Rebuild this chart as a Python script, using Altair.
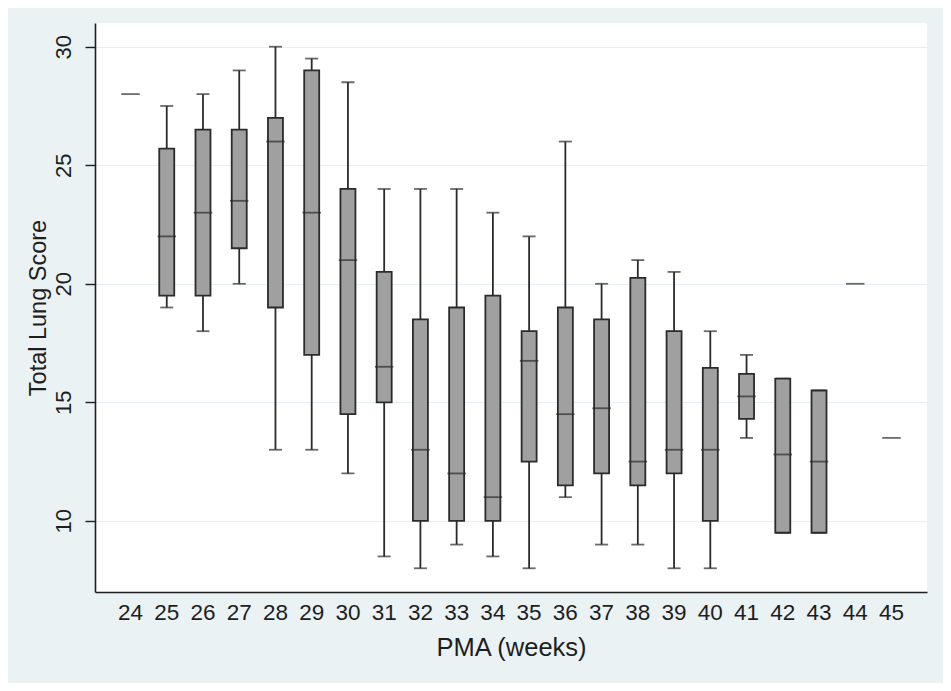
import altair as alt
import pandas as pd

pma = list(range(24, 46))
whisker_lo = [28, 19, 18, 20, 13, 13, 12, 8.5, 8, 9, 8.5, 8, 11, 9, 9, 8, 8, 13.5, 9.5, 9.5, 20, 13.5]
q1 = [28, 19.5, 19.5, 21.5, 19, 17, 14.5, 15, 10, 10, 10, 12.5, 11.5, 12, 11.5, 12, 10, 14.3, 9.5, 9.5, 20, 13.5]
median = [28, 22, 23, 23.5, 26, 23, 21, 16.5, 13, 12, 11, 16.75, 14.5, 14.75, 12.5, 13, 13, 15.25, 12.8, 12.5, 20, 13.5]
q3 = [28, 25.7, 26.5, 26.5, 27, 29, 24, 20.5, 18.5, 19, 19.5, 18, 19, 18.5, 20.25, 18, 16.45, 16.2, 16, 15.5, 20, 13.5]
whisker_hi = [28, 27.5, 28, 29, 30, 29.5, 28.5, 24, 24, 24, 23, 22, 26, 20, 21, 20.5, 18, 17, 16, 15.5, 20, 13.5]
y_ticks = [10, 15, 20, 25, 30]

df = pd.DataFrame({
    "pma": pma, "lo": whisker_lo, "q1": q1, "med": median, "q3": q3, "hi": whisker_hi,
})

FONT = "Liberation Sans"
INK = "#1e1e1e"
LINE = "#2b2b2b"
W, H = 832, 569

x = alt.X(
    "pma:O",
    scale=alt.Scale(paddingInner=0, paddingOuter=0.48),
    axis=alt.Axis(
        title="PMA (weeks)", labelAngle=0, ticks=False, tickSize=0,
        labelPadding=27, labelBaseline="alphabetic", labelFontSize=22.5,
        labelFont=FONT, labelColor=INK, domainColor=INK, domainWidth=1.6,
        titleFont=FONT, titleFontSize=25.5, titleFontWeight="normal", titleColor=INK,
        titleX=W / 2, titleY=63, titleBaseline="alphabetic", titleAlign="center",
    ),
)
yscale = alt.Scale(domain=[7, 31], nice=False, zero=False)
yaxis = alt.Axis(
    title="Total Lung Score", values=y_ticks, tickSize=10, tickColor=INK, tickWidth=1.4,
    labelAngle=-90, labelAlign="center", labelBaseline="alphabetic", labelPadding=15,
    labelFont=FONT, labelFontSize=22, labelColor=INK,
    domainColor=INK, domainWidth=1.6, grid=True, gridColor="#E6EFF1", gridWidth=1.2,
    titleFont=FONT, titleFontSize=23.5, titleFontWeight="normal", titleColor=INK,
    titleAngle=270, titleX=-50, titleY=H / 2, titleAlign="center", titleBaseline="alphabetic",
)

base = alt.Chart(df)
boxes_only = base.transform_filter("datum.q3 > datum.q1")

whisker = boxes_only.mark_rule(color=LINE, strokeWidth=1.8).encode(
    x=x, y=alt.Y("lo:Q", scale=yscale, axis=yaxis), y2="hi:Q"
)
cap_lo = boxes_only.mark_tick(color=LINE, size=13, thickness=1.8).encode(
    x=x, y=alt.Y("lo:Q", scale=yscale)
)
cap_hi = boxes_only.mark_tick(color=LINE, size=13, thickness=1.8).encode(
    x=x, y=alt.Y("hi:Q", scale=yscale)
)
box = boxes_only.mark_bar(size=15, fill="#A0A0A0", stroke=LINE, strokeWidth=1.8).encode(
    x=x, y=alt.Y("q1:Q", scale=yscale), y2="q3:Q"
)
med = base.mark_tick(color=LINE, size=18.5, thickness=1.8).encode(
    x=x, y=alt.Y("med:Q", scale=yscale)
)

chart = (
    alt.layer(whisker, cap_lo, cap_hi, box, med)
    .properties(
        width=W, height=H,
        autosize=alt.AutoSizeParams(type="none"),
        padding={"left": 87, "top": 15, "right": 16, "bottom": 91},
        background="#EAF2F3",
    )
    .configure_view(fill="white", stroke=None)
)

chart.save("out.html", embed_options={"renderer": "svg", "actions": False})
